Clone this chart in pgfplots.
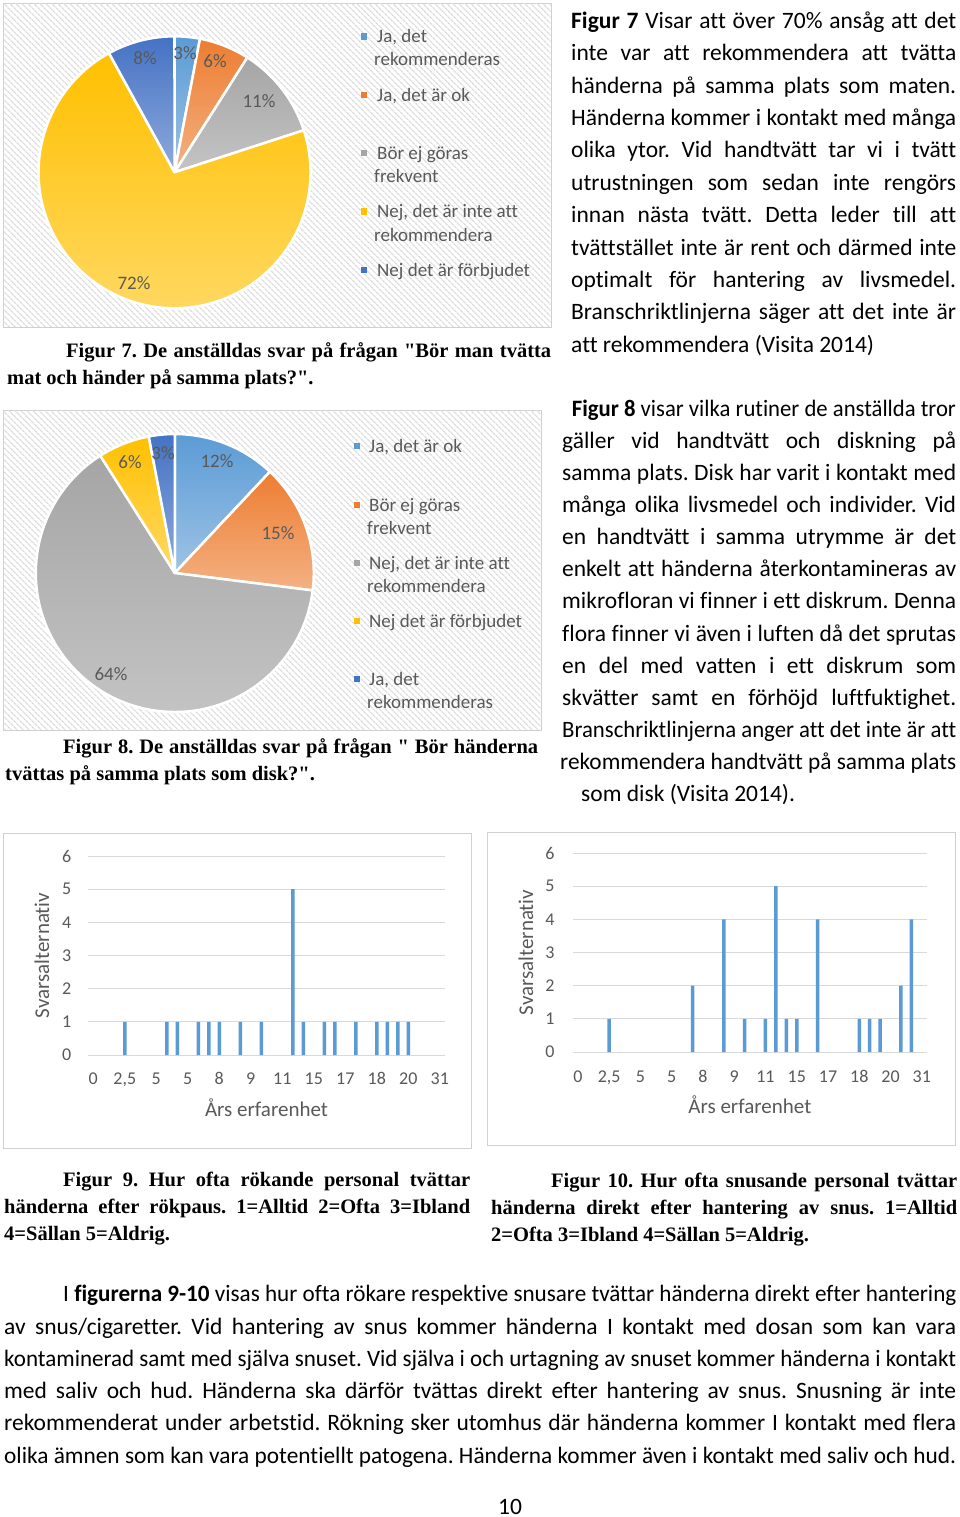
\documentclass[border=0pt]{standalone}
\usepackage{fontspec}
\setmainfont{Carlito}[Ligatures={TeX,NoCommon}]
\newfontfamily\tnr{Liberation Serif}[Ligatures=NoCommon]
\usepackage{graphicx}
\usepackage{pgfplots}
\pgfplotsset{compat=1.18}
\usetikzlibrary{patterns.meta}
\definecolor{lblue}{HTML}{5B9BD5}
\definecolor{lbluel}{HTML}{9DC3E6}
\definecolor{orng}{HTML}{ED7D31}
\definecolor{orngl}{HTML}{F4B183}
\definecolor{gry}{HTML}{A5A5A5}
\definecolor{gryl}{HTML}{C4C4C4}
\definecolor{yel}{HTML}{FFC000}
\definecolor{yell}{HTML}{FFD966}
\definecolor{dblue}{HTML}{4472C4}
\definecolor{dbluel}{HTML}{8FAADC}
\definecolor{txtgray}{HTML}{595959}
\definecolor{gridgray}{HTML}{D9D9D9}
\definecolor{framegray}{HTML}{D0D0D0}
\definecolor{hatch}{HTML}{DCDCDC}
\newsavebox\lbox
\newcommand\jl[2]{\sbox\lbox{#2}\ifdim\wd\lbox>#1\relax\resizebox{#1}{\height}{\usebox\lbox}\else\makebox[#1][s]{#2}\fi}
\newcommand\bodyfont{\fontsize{23.5}{32}\selectfont}
\newcommand\capfont{\tnr\bfseries\fontsize{20.5}{27}\selectfont}
\newcommand\chartfont{\fontsize{19}{23}\selectfont\color{txtgray}}
% justified body line: x, baseline, width, text
\newcommand\bl[4]{\node[anchor=base west,inner sep=0pt] at (#1,-#2) {\bodyfont\jl{#3pt}{#4}};}
\newcommand\bn[3]{\node[anchor=base west,inner sep=0pt] at (#1,-#2) {\bodyfont #3};}
\newcommand\cl[4]{\node[anchor=base west,inner sep=0pt] at (#1,-#2) {\capfont\jl{#3pt}{#4}};}
\newcommand\cn[3]{\node[anchor=base west,inner sep=0pt] at (#1,-#2) {\capfont #3};}
% chart text
\newcommand\ct[3]{\node[anchor=base west,inner sep=0pt] at (#1,-#2) {\chartfont #3};}
\newcommand\pl[3]{\node[anchor=base,inner sep=0pt] at (#1,-#2) {\chartfont #3};}
\newcommand\mk[3]{\fill[#3] (#1-3.2,-#2-3.2) rectangle (#1+3.2,-#2+3.2);}
% pie slice: cumulative percent, percent, top colour, bottom colour
\newcommand\pslice[4]{\shade[top color=#3,bottom color=#4,draw=white,line width=2.5pt,line join=round]
 (axis cs:0,0) -- (axis cs:{cos(90-3.6*#1)},{sin(90-3.6*#1)})
 arc[start angle={90-3.6*#1},end angle={90-3.6*(#1+#2)},radius=\pieR] -- cycle;}
\pgfplotsset{
 pieaxis/.style={scale only axis,hide axis,clip=false,xmin=-1,xmax=1,ymin=-1,ymax=1,anchor=center},
 baraxis/.style={scale only axis,anchor=south west,xmin=-0.5,xmax=33.5,ymin=0,ymax=6,
  ytick={0,1,...,6},xtick={0,3,...,33},
  xticklabels={0,{2,5},5,5,8,9,11,15,17,18,20,31},
  axis line style={draw=none},major tick length=0pt,
  ymajorgrids,major grid style={draw=gridgray,line width=1pt},
  tick label style={font=\fontsize{18}{18}\selectfont,text=txtgray},
  /pgf/number format/assume math mode=true,
  label style={font=\fontsize{21}{21}\selectfont,text=txtgray},
  xlabel={Års erfarenhet},ylabel={Svarsalternativ},
  ybar,bar width=3.5pt}
}
\frenchspacing
\begin{document}
\frenchspacing
\begin{tikzpicture}[x=1pt,y=1pt]
\path[use as bounding box,fill=white] (0,0) rectangle (960,-1517);

%% ---------- Figure 7 pie ----------
\draw[framegray,fill=white] (3,-3) rectangle (551,-327);
\fill[pattern={Lines[angle=-45,distance=4pt,line width=1.3pt]},pattern color=hatch] (3.5,-3.5) rectangle (550.5,-326.5);
\def\pieR{136pt}
\begin{axis}[pieaxis,at={(174.5pt,-172.3pt)},width=272pt,height=272pt]
\pslice{0}{3}{lblue}{lbluel}
\pslice{3}{6}{orng}{orngl}
\pslice{9}{11}{gry}{gryl}
\pslice{20}{72}{yel}{yell}
\pslice{92}{8}{dblue}{dbluel}
\end{axis}
\pl{145}{65}{8\%}
\pl{185}{60}{3\%}
\pl{215}{68}{6\%}
\pl{259}{108}{11\%}
\pl{134}{289}{72\%}
\mk{364}{36.5}{lblue}
\ct{377}{43}{Ja, det}
\ct{374}{66}{rekommenderas}
\mk{364}{95}{orng}
\ct{377}{101.5}{Ja, det är ok}
\mk{364}{153}{gry}
\ct{377}{159.5}{Bör ej göras}
\ct{374}{182.5}{frekvent}
\mk{364}{211.5}{yel}
\ct{377}{218}{Nej, det är inte att}
\ct{374}{241}{rekommendera}
\mk{364}{270}{dblue}
\ct{377}{276.5}{Nej det är förbjudet}
\cl{66}{357}{485}{Figur 7. De anställdas svar på frågan "Bör man tvätta}
\cn{7}{384}{mat och händer på samma plats?".}

%% ---------- Figure 8 pie ----------
\draw[framegray,fill=white] (3,-410) rectangle (541,-730);
\fill[pattern={Lines[angle=-45,distance=4pt,line width=1.3pt]},pattern color=hatch] (3.5,-410.5) rectangle (540.5,-729.5);
\def\pieR{139pt}
\begin{axis}[pieaxis,at={(174.8pt,-573pt)},width=278pt,height=278pt]
\pslice{0}{12}{lblue}{lbluel}
\pslice{12}{15}{orng}{orngl}
\pslice{27}{64}{gry}{gryl}
\pslice{91}{6}{yel}{yell}
\pslice{97}{3}{dblue}{dbluel}
\end{axis}
\pl{163}{459}{3\%}
\pl{130}{468}{6\%}
\pl{217}{467}{12\%}
\pl{278}{539}{15\%}
\pl{111}{680}{64\%}
\mk{357}{446}{lblue}
\ct{369}{452.5}{Ja, det är ok}
\mk{357}{505}{orng}
\ct{369}{511.5}{Bör ej göras}
\ct{367}{534.5}{frekvent}
\mk{357}{563}{gry}
\ct{369}{569.5}{Nej, det är inte att}
\ct{367}{592.5}{rekommendera}
\mk{357}{621}{yel}
\ct{369}{627.5}{Nej det är förbjudet}
\mk{357}{679}{dblue}
\ct{369}{685.5}{Ja, det}
\ct{367}{708.5}{rekommenderas}
\cl{63}{753}{475}{Figur 8. De anställdas svar på frågan " Bör händerna}
\cn{5}{780}{tvättas på samma plats som disk?".}

%% ---------- Right column text ----------
\bl{571}{28.3}{385}{\textbf{Figur 7} Visar att över 70\% ansåg att det}
\bl{571}{60.7}{385}{inte var att rekommendera att tvätta}
\bl{571}{93.1}{385}{händerna på samma plats som maten.}
\bl{571}{125.5}{385}{Händerna kommer i kontakt med många}
\bl{571}{157.9}{385}{olika ytor. Vid handtvätt tar vi i tvätt}
\bl{571}{190.3}{385}{utrustningen som sedan inte rengörs}
\bl{571}{222.7}{385}{innan nästa tvätt. Detta leder till att}
\bl{571}{255.1}{385}{tvättstället inte är rent och därmed inte}
\bl{571}{287.5}{385}{optimalt för hantering av livsmedel.}
\bl{571}{319.9}{385}{Branschriktlinjerna säger att det inte är}
\bn{571}{352.3}{att rekommendera (Visita 2014)}

\bl{571.7}{416}{384}{\textbf{Figur 8} visar vilka rutiner de anställda tror}
\bl{562}{448.1}{394}{gäller vid handtvätt och diskning på}
\bl{562}{480.3}{394}{samma plats. Disk har varit i kontakt med}
\bl{562}{512.4}{394}{många olika livsmedel och individer. Vid}
\bl{562}{544.6}{394}{en handtvätt i samma utrymme är det}
\bl{562}{576.7}{394}{enkelt att händerna återkontamineras av}
\bl{562}{608.8}{394}{mikrofloran vi finner i ett diskrum. Denna}
\bl{562}{641.0}{394}{flora finner vi även i luften då det sprutas}
\bl{562}{673.1}{394}{en del med vatten i ett diskrum som}
\bl{562}{705.3}{394}{skvätter samt en förhöjd luftfuktighet.}
\bl{562}{737.4}{394}{Branschriktlinjerna anger att det inte är att}
\bl{560}{769.5}{396}{rekommendera handtvätt på samma plats}
\bn{581}{801.7}{som disk (Visita 2014).}

%% ---------- Figure 9 bars ----------
\draw[framegray,fill=white] (3,-833) rectangle (471,-1148);
\begin{axis}[baraxis,at={(88pt,-1055pt)},width=357pt,height=199pt,
 yticklabel style={anchor=east,inner sep=0pt,xshift=-16.5pt},
 xticklabel style={anchor=base,inner sep=0pt,yshift=-29.4pt},
 xlabel style={at={(axis description cs:0.5,-0.3065)},anchor=base},
 ylabel style={at={(axis description cs:-0.1092,0.5)},anchor=base}]
\addplot[fill=lblue,draw=none] coordinates {
(3,1) (7,1) (8,1) (10,1) (11,1) (12,1) (14,1) (16,1) (19,5) (20,1)
(22,1) (23,1) (25,1) (27,1) (28,1) (29,1) (30,1)};
\end{axis}

%% ---------- Figure 10 bars ----------
\draw[framegray,fill=white] (487,-832) rectangle (955,-1145);
\begin{axis}[baraxis,at={(572.7pt,-1052pt)},width=354.3pt,height=199pt,
 yticklabel style={anchor=east,inner sep=0pt,xshift=-18pt},
 xticklabel style={anchor=base,inner sep=0pt,yshift=-30.4pt},
 xlabel style={at={(axis description cs:0.5,-0.3065)},anchor=base},
 ylabel style={at={(axis description cs:-0.112,0.5)},anchor=base}]
\addplot[fill=lblue,draw=none] coordinates {
(3,1) (11,2) (14,4) (16,1) (18,1) (19,5) (20,1) (21,1) (23,4)
(27,1) (28,1) (29,1) (31,2) (32,4)};
\end{axis}

%% ---------- Captions 9 and 10 ----------
\cl{63}{1186}{407}{Figur 9. Hur ofta rökande personal tvättar}
\cl{4}{1213}{466}{händerna efter rökpaus. 1=Alltid 2=Ofta 3=Ibland}
\cn{4}{1240}{4=Sällan 5=Aldrig.}
\cl{551}{1187}{406}{Figur 10. Hur ofta snusande personal tvättar}
\cl{491}{1214}{466}{händerna direkt efter hantering av snus. 1=Alltid}
\cn{491}{1241}{2=Ofta 3=Ibland 4=Sällan 5=Aldrig.}

%% ---------- Bottom paragraph ----------
\bl{63}{1301.7}{893}{I \textbf{figurerna 9-10} visas hur ofta rökare respektive snusare tvättar händerna direkt efter hantering}
\bl{4}{1334}{952}{av snus/cigaretter. Vid hantering av snus kommer händerna I kontakt med dosan som kan vara}
\bl{4}{1366.3}{952}{kontaminerad samt med själva snuset. Vid själva i och urtagning av snuset kommer händerna i kontakt}
\bl{4}{1398.6}{952}{med saliv och hud. Händerna ska därför tvättas direkt efter hantering av snus. Snusning är inte}
\bl{4}{1430.9}{952}{rekommenderat under arbetstid. Rökning sker utomhus där händerna kommer I kontakt med flera}
\bl{4}{1463.3}{952}{olika ämnen som kan vara potentiellt patogena. Händerna kommer även i kontakt med saliv och hud.}
\node[anchor=base,inner sep=0pt] at (510,-1514) {\bodyfont 10};
\end{tikzpicture}
\end{document}
